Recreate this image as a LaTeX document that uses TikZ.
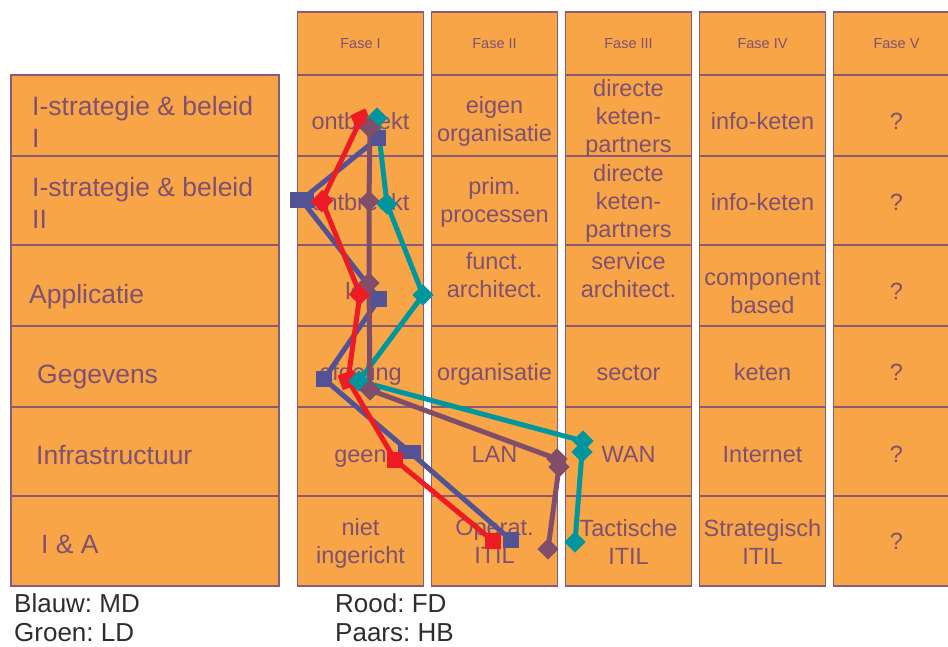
\documentclass[tikz,border=0pt]{standalone}
\usepackage{fontspec}
\setmainfont{Liberation Sans}
\frenchspacing
\definecolor{cellfill}{RGB}{248,165,72}
\definecolor{cellline}{RGB}{138,90,120}
\definecolor{txt}{RGB}{127,80,112}
\definecolor{legendcol}{RGB}{45,45,45}
\definecolor{mdblue}{RGB}{82,82,148}
\definecolor{fdred}{RGB}{237,28,36}
\definecolor{ldteal}{RGB}{0,150,157}
\definecolor{hbpurple}{RGB}{128,78,104}
\tikzset{
 cell/.style={fill=cellfill,draw=cellline,line width=1.2pt},
 celltext/.style={text=txt,font=\fontsize{23.5}{28}\selectfont,align=center,inner sep=0pt},
 one/.style={celltext,anchor=base},
 multi/.style={celltext,anchor=center},
 head/.style={text=txt,font=\fontsize{14.5}{17}\selectfont,inner sep=0pt},
 rowlab/.style={text=txt,font=\fontsize{26.5}{32}\selectfont,align=left,inner sep=0pt},
 legendtext/.style={text=legendcol,font=\fontsize{26}{31}\selectfont,inner sep=0pt,anchor=base west},
 series/.style={line width=5pt,line join=round,line cap=round,draw=#1},
 sqmark/.style={rectangle,fill=#1,inner sep=0pt,minimum width=16.5pt,minimum height=15.5pt},
 dmark/.style={rectangle,fill=#1,inner sep=0pt,minimum width=15pt,minimum height=15pt,rotate=45},
}
\begin{document}
\begin{tikzpicture}[x=1pt,y=-1pt]
\useasboundingbox (0,0) rectangle (948,646);
\begin{scope}
\clip (0,0) rectangle (948,646);
\foreach \a/\b in {75/156,156/245,245/326,326/407,407/496,496/586}
  \path[cell] (11,\a) rectangle (279,\b);
\foreach \x in {297.5,431.5,565.5,699.5,833.5}{
  \path[cell] (\x,12) rectangle (\x+126,75);
  \foreach \a/\b in {75/156,156/245,245/326,326/407,407/496,496/586}
    \path[cell] (\x,\a) rectangle (\x+126,\b);
}
\end{scope}

% headers
\node[head] (h1) at (360.5,44) {Fase I};
\node[head] (h2) at (494.5,44) {Fase II};
\node[head] (h3) at (628.5,44) {Fase III};
\node[head] (h4) at (762.5,44) {Fase IV};
\node[head] (h5) at (896.5,44) {Fase V};

% row labels
\node[rowlab,anchor=west] (rl1) at (32,121.5) {I-strategie \& beleid\\I};
\node[rowlab,anchor=west] (rl2) at (32,203) {I-strategie \& beleid\\II};
\node[rowlab,anchor=base west] (rl3) at (29,303) {Applicatie};
\node[rowlab,anchor=base west] (rl4) at (37,383) {Gegevens};
\node[rowlab,anchor=base west] (rl5) at (36,464) {Infrastructuur};
\node[rowlab,anchor=base west] (rl6) at (41,553) {I \& A};

% Fase I
\node[one] (c11) at (360.5,129) {ontbreekt};
\node[one] (c12) at (360.5,210) {ontbreekt};
\node[one] (c13) at (360.5,299) {los};
\node[one] (c14) at (360.5,380) {afdeling};
\node[one] (c15) at (360.5,462) {geen};
\node[multi] (c16) at (360.5,543) {niet\\ingericht};
% Fase II
\node[multi] (c21) at (494.5,121.5) {eigen\\organisatie};
\node[multi] (c22) at (494.5,202) {prim.\\processen};
\node[multi] (c23) at (494.5,275.5) {funct.\\architect.};
\node[one] (c24) at (494.5,380) {organisatie};
\node[one] (c25) at (494.5,462) {LAN};
\node[multi] (c26) at (494.5,541.5) {Operat.\\ITIL};
% Fase III
\node[multi] (c31) at (628.5,118) {directe\\keten-\\partners};
\node[multi] (c32) at (628.5,203) {directe\\keten-\\partners};
\node[multi] (c33) at (628.5,275.5) {service\\architect.};
\node[one] (c34) at (628.5,380) {sector};
\node[one] (c35) at (628.5,462) {WAN};
\node[multi] (c36) at (628.5,541.5) {Tactische\\ITIL};
% Fase IV
\node[one] (c41) at (762.5,129) {info-keten};
\node[one] (c42) at (762.5,210) {info-keten};
\node[multi] (c43) at (762.5,292) {component\\based};
\node[one] (c44) at (762.5,380) {keten};
\node[one] (c45) at (762.5,462) {Internet};
\node[multi] (c46) at (762.5,542) {Strategisch\\ITIL};
% Fase V
\node[one] (c51) at (896.5,129) {?};
\node[one] (c52) at (896.5,210) {?};
\node[one] (c53) at (896.5,299) {?};
\node[one] (c54) at (896.5,380) {?};
\node[one] (c55) at (896.5,462) {?};
\node[one] (c56) at (896.5,549.5) {?};

% series points
\coordinate (b1) at (378,138);
\coordinate (b2) at (301.5,200);
\coordinate (b3) at (379,299);
\coordinate (b4) at (324,379);
\coordinate (b5) at (409,451.5);
\coordinate (b6) at (511,540);
\coordinate (fd1) at (361,119);
\coordinate (fd2) at (322,201);
\coordinate (fd3) at (360,294);
\coordinate (fd4) at (348,380);
\coordinate (fd5) at (395,460);
\coordinate (fd6) at (493,541);
\coordinate (ld1) at (377,118);
\coordinate (ld2) at (387,204);
\coordinate (ld3) at (423,295);
\coordinate (ld4) at (359,381);
\coordinate (ld5) at (583,441);
\coordinate (ld6) at (582,452);
\coordinate (ld7) at (575,542);
\coordinate (hb1) at (370,128);
\coordinate (hb2) at (369,201);
\coordinate (hb3) at (369,283);
\coordinate (hb4) at (370,390);
\coordinate (hb5) at (557,459);
\coordinate (hb6) at (559,467);
\coordinate (hb7) at (548,549);

% lines
\draw[series=mdblue] (b1) -- (b2) -- (b3) -- (b4) -- (b5) -- (b6);
\draw[series=fdred] (fd1) -- (fd2) -- (fd3) -- (fd4) -- (fd5) -- (fd6);
\draw[series=ldteal] (ld1) -- (ld2) -- (ld3) -- (ld4) -- (ld5) -- (ld6) -- (ld7);
\draw[series=hbpurple] (hb1) -- (hb2) -- (hb3) -- (hb4) -- (hb5) -- (hb6) -- (hb7);

% markers
\node[sqmark=mdblue] (mb1) at (b1) {};
\node[sqmark=mdblue,minimum width=24pt] (mb2) at (b2) {};
\node[sqmark=mdblue] (mb3) at (b3) {};
\node[sqmark=mdblue] (mb4) at (b4) {};
\node[sqmark=mdblue,minimum width=23pt,minimum height=14pt] (mb5) at (b5) {};
\node[sqmark=mdblue] (mb6) at (b6) {};
\node[sqmark=fdred,rotate=25] (mf1) at (fd1) {};
\node[sqmark=fdred,rotate=45] (mf2) at (fd2) {};
\node[sqmark=fdred,rotate=45] (mf3) at (fd3) {};
\node[sqmark=fdred,rotate=20] (mf4) at (fd4) {};
\node[sqmark=fdred] (mf5) at (fd5) {};
\node[sqmark=fdred] (mf6) at (fd6) {};
\node[dmark=ldteal] (ml1) at (ld1) {};
\node[dmark=ldteal] (ml2) at (ld2) {};
\node[dmark=ldteal] (ml3) at (ld3) {};
\node[dmark=ldteal] (ml4) at (ld4) {};
\node[dmark=ldteal] (ml5) at (ld5) {};
\node[dmark=ldteal] (ml6) at (ld6) {};
\node[dmark=ldteal] (ml7) at (ld7) {};
\node[dmark=hbpurple] (mh1) at (hb1) {};
\node[dmark=hbpurple] (mh2) at (hb2) {};
\node[dmark=hbpurple] (mh3) at (hb3) {};
\node[dmark=hbpurple] (mh4) at (hb4) {};
\node[dmark=hbpurple] (mh5) at (hb5) {};
\node[dmark=hbpurple] (mh6) at (hb6) {};
\node[dmark=hbpurple] (mh7) at (hb7) {};

% legend
\node[legendtext] (lg1) at (14,612) {Blauw: MD};
\node[legendtext] (lg2) at (14,641) {Groen: LD};
\node[legendtext] (lg3) at (335,612) {Rood: FD};
\node[legendtext] (lg4) at (335,641) {Paars: HB};
\end{tikzpicture}
\end{document}
